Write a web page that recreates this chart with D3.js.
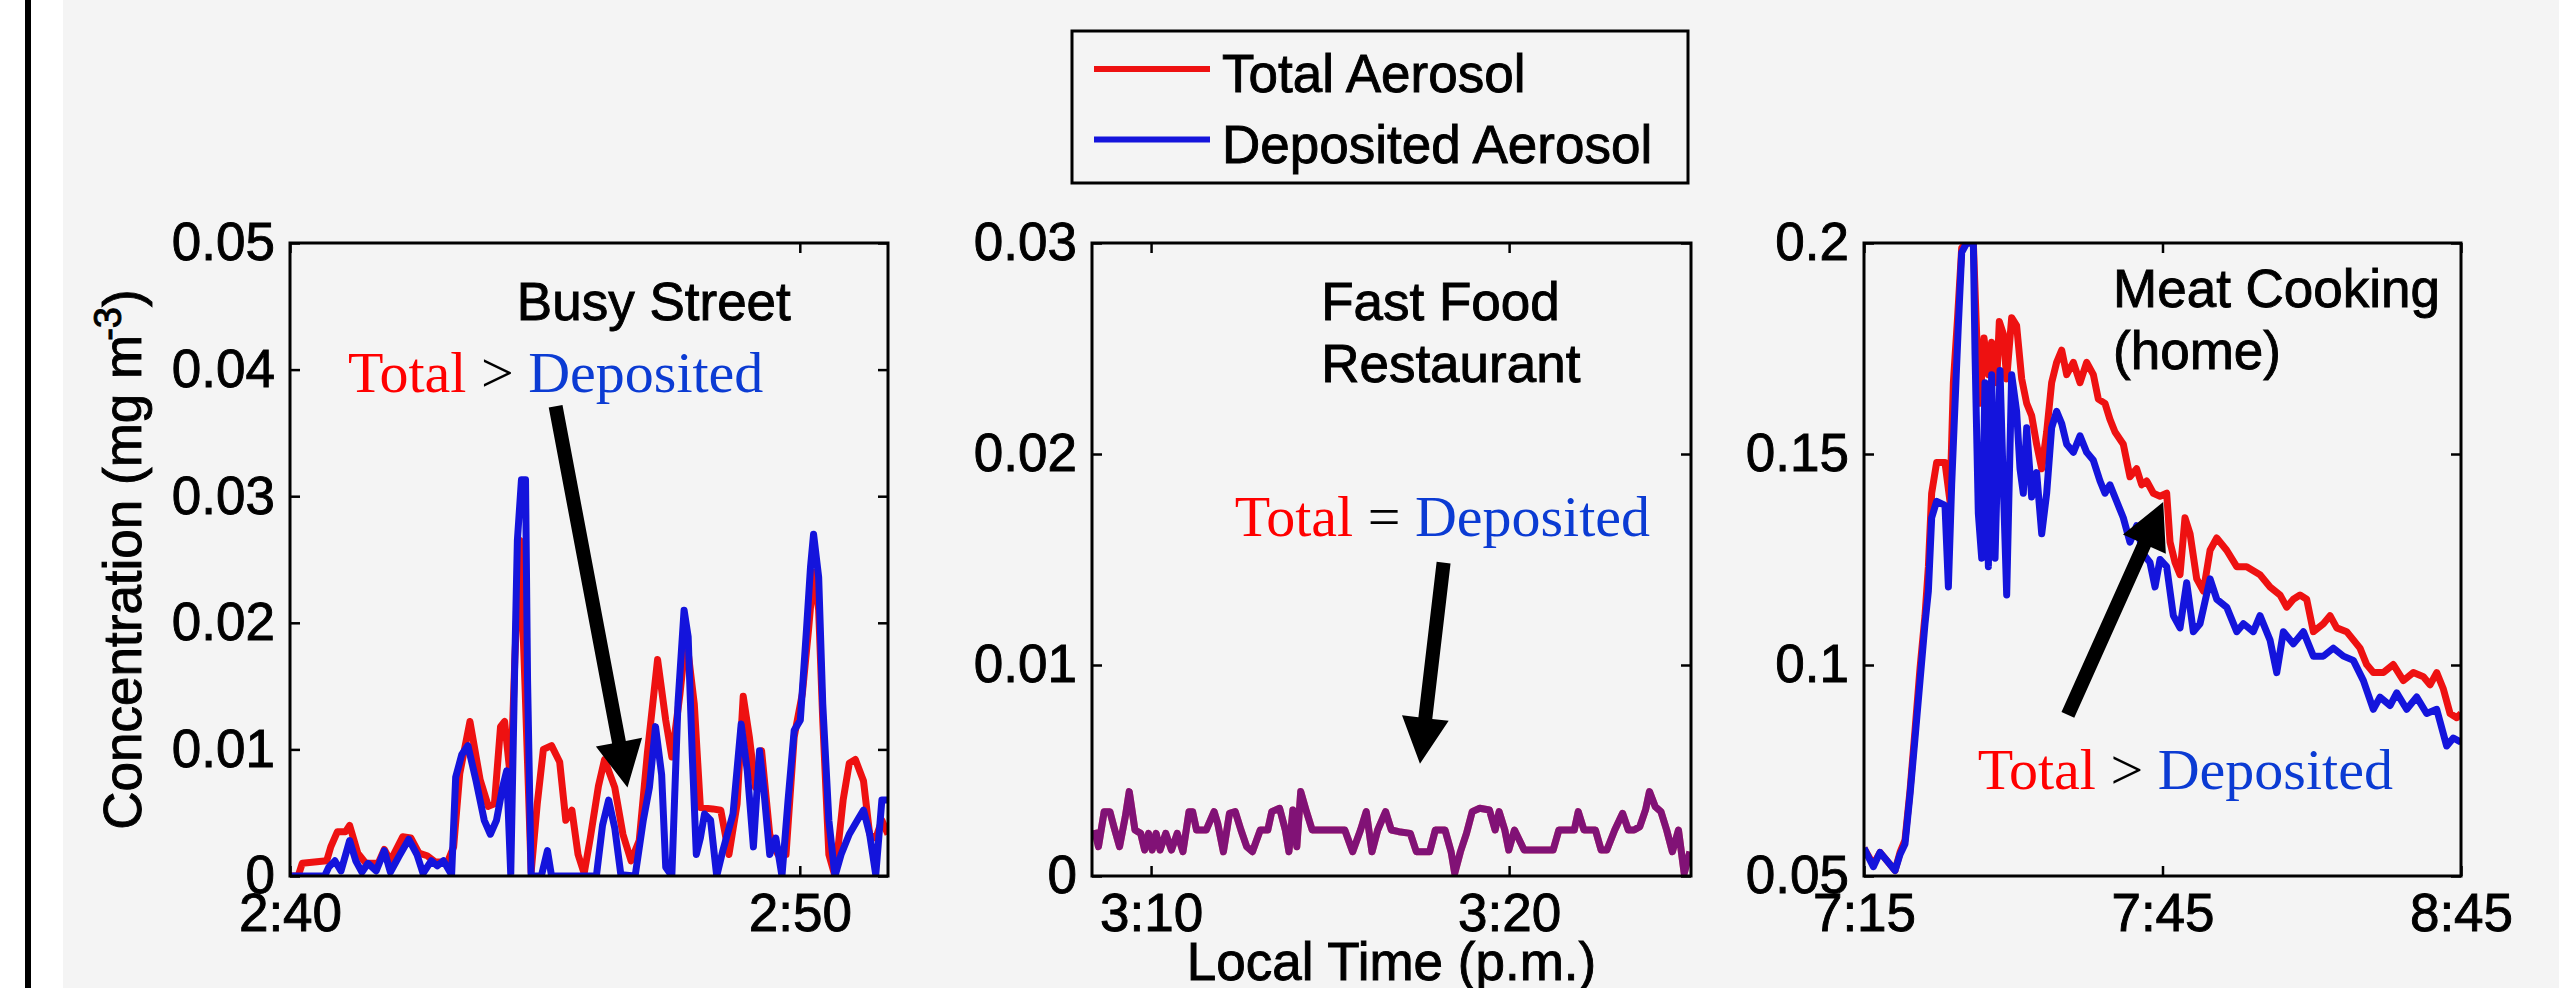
<!DOCTYPE html>
<html>
<head>
<meta charset="utf-8">
<script src="https://cdn.jsdelivr.net/npm/d3@7"></script>
<style>
  html, body { margin: 0; padding: 0; background: #f4f4f4; }
  svg { display: block; }
  text { white-space: pre; }
</style>
</head>
<body>
<svg id="fig" width="2559" height="988"></svg>
<script>
// ---------- data (concentration in mg m-3) ----------
// Busy street: [minutes past 2:00 p.m., concentration]
const streetTotal = [[40.00,0],[40.16,0],[40.24,0.0010],[40.72,0.0012],[40.80,0.0023],[40.93,0.0035],[41.09,0.0035],[41.17,0.0040],[41.33,0.0018],[41.49,0.0010],[41.73,0.0010],[41.85,0.0021],[41.97,0.0012],[42.21,0.0031],[42.37,0.0030],[42.53,0.0018],[42.69,0.0016],[42.85,0.0011],[43.09,0.0011],[43.21,0.0023],[43.33,0.0081],[43.53,0.0122],[43.73,0.0076],[43.89,0.0055],[44.01,0.0057],[44.13,0.0118],[44.21,0.0122],[44.33,0.0075],[44.41,0.0171],[44.51,0.0265],[44.61,0.0150],[44.73,0.0003],[44.85,0.0057],[44.97,0.0100],[45.13,0.0103],[45.29,0.0090],[45.41,0.0044],[45.53,0.0052],[45.65,0.0017],[45.77,0.0002],[45.89,0.0030],[46.05,0.0071],[46.17,0.0092],[46.37,0.0070],[46.53,0.0033],[46.69,0.0012],[46.85,0.0028],[47.01,0.0097],[47.21,0.0171],[47.37,0.0123],[47.49,0.0094],[47.65,0.0144],[47.77,0.0190],[47.93,0.0136],[48.05,0.0054],[48.29,0.0053],[48.45,0.0052],[48.61,0.0017],[48.77,0.0057],[48.89,0.0142],[49.01,0.0110],[49.13,0.0070],[49.25,0.0099],[49.41,0.0033],[49.57,0.0017],[49.73,0.0017],[49.89,0.0110],[50.05,0.0144],[50.17,0.0194],[50.27,0.0240],[50.37,0.0210],[50.45,0.0123],[50.57,0.0017],[50.69,0.0000],[50.85,0.0060],[50.97,0.0089],[51.09,0.0092],[51.25,0.0075],[51.37,0.0033],[51.49,0.0030],[51.61,0.0044],[51.73,0.0033]];
const streetDeposited = [[40.00,0],[40.68,0],[40.76,0.0007],[40.88,0.0012],[41.00,0.0004],[41.17,0.0028],[41.29,0.0012],[41.41,0.0003],[41.53,0.0010],[41.69,0.0004],[41.85,0.0020],[41.97,0.0003],[42.13,0.0015],[42.33,0.0029],[42.49,0.0017],[42.61,0.0002],[42.77,0.0012],[42.89,0.0008],[43.01,0.0012],[43.17,0.0001],[43.25,0.0078],[43.37,0.0096],[43.49,0.0103],[43.65,0.0075],[43.81,0.0044],[43.93,0.0033],[44.05,0.0044],[44.17,0.0070],[44.25,0.0083],[44.33,0.0001],[44.41,0.0170],[44.46,0.0265],[44.54,0.0313],[44.62,0.0313],[44.66,0.0154],[44.73,0],[44.93,0],[45.05,0.0020],[45.13,0],[46.01,0],[46.13,0.0040],[46.25,0.0060],[46.37,0.0038],[46.49,0.0001],[46.77,0],[46.93,0.0044],[47.05,0.0070],[47.17,0.0118],[47.29,0.0080],[47.37,0.0007],[47.49,0],[47.61,0.0136],[47.73,0.0210],[47.81,0.0189],[47.89,0.0096],[47.97,0.0017],[48.05,0.0030],[48.13,0.0049],[48.25,0.0044],[48.37,0],[48.49,0.0020],[48.69,0.0049],[48.85,0.0120],[48.97,0.0083],[49.09,0.0023],[49.21,0.0099],[49.29,0.0070],[49.41,0.0017],[49.53,0.0030],[49.65,0],[49.77,0.0060],[49.89,0.0115],[50.01,0.0123],[50.13,0.0194],[50.21,0.0244],[50.27,0.0270],[50.37,0.0236],[50.45,0.0136],[50.57,0.0044],[50.69,0],[50.81,0.0017],[50.97,0.0033],[51.13,0.0044],[51.25,0.0052],[51.37,0.0033],[51.49,0.0001],[51.61,0.0060],[51.73,0.0060]];

// Fast food restaurant: [minutes past 3:00 p.m., concentration]; total and deposited read the same
const foodTotal = [[8.42,0.00218],[8.53,0.00139],[8.69,0.00305],[8.85,0.00305],[8.96,0.00234],[9.12,0.00139],[9.28,0.00281],[9.39,0.00400],[9.55,0.00218],[9.71,0.00202],[9.82,0.00123],[9.93,0.00202],[10.03,0.00123],[10.14,0.00202],[10.25,0.00123],[10.41,0.00202],[10.57,0.00123],[10.73,0.00202],[10.89,0.00115],[11.06,0.00305],[11.16,0.00305],[11.27,0.00218],[11.54,0.00218],[11.76,0.00305],[11.86,0.00250],[12.02,0.00115],[12.19,0.00297],[12.35,0.00305],[12.51,0.00218],[12.67,0.00139],[12.83,0.00115],[13.05,0.00218],[13.26,0.00218],[13.37,0.00305],[13.59,0.00321],[13.75,0.00218],[13.85,0.00115],[13.96,0.00313],[14.07,0.00139],[14.18,0.00400],[14.34,0.00305],[14.50,0.00218],[14.77,0.00218],[15.41,0.00218],[15.63,0.00115],[15.85,0.00218],[16.01,0.00305],[16.17,0.00115],[16.33,0.00218],[16.55,0.00305],[16.71,0.00218],[16.92,0.00210],[17.24,0.00202],[17.41,0.00115],[17.78,0.00115],[17.94,0.00218],[18.21,0.00218],[18.38,0.00115],[18.48,0.00013],[18.64,0.00115],[18.81,0.00202],[18.97,0.00305],[19.18,0.00321],[19.45,0.00313],[19.61,0.00218],[19.72,0.00305],[19.88,0.00218],[19.99,0.00123],[20.15,0.00218],[20.42,0.00123],[21.23,0.00123],[21.39,0.00218],[21.66,0.00218],[21.82,0.00218],[21.93,0.00305],[22.09,0.00218],[22.41,0.00218],[22.57,0.00123],[22.73,0.00123],[22.95,0.00218],[23.17,0.00297],[23.33,0.00218],[23.49,0.00218],[23.65,0.00234],[23.81,0.00313],[23.92,0.00400],[24.08,0.00329],[24.24,0.00305],[24.40,0.00218],[24.56,0.00115],[24.73,0.00218],[24.89,0.00013],[25.05,0.00115]];

// Meat cooking at home: [minutes past 7:00 p.m. along the record, concentration]
const homeTotal = [[15.00,0.0566],[15.94,0.0527],[16.61,0.0556],[17.28,0.0537],[18.12,0.0513],[18.62,0.0556],[19.12,0.0585],[19.62,0.0701],[20.13,0.0846],[20.63,0.0992],[21.13,0.1117],[21.47,0.1233],[21.80,0.1407],[22.30,0.1480],[23.14,0.1480],[23.64,0.1388],[23.98,0.1669],[24.38,0.1814],[24.82,0.1988],[25.32,0.2000],[25.99,0.2000],[26.32,0.1785],[26.66,0.1620],[27.06,0.1775],[27.50,0.1688],[27.83,0.1765],[28.33,0.1669],[28.60,0.1814],[29.00,0.1785],[29.34,0.1678],[29.84,0.1823],[30.34,0.1804],[30.85,0.1678],[31.35,0.1620],[31.85,0.1591],[32.35,0.1523],[32.86,0.1465],[33.36,0.1552],[33.86,0.1669],[34.36,0.1717],[34.87,0.1746],[35.37,0.1688],[36.04,0.1717],[36.71,0.1669],[37.38,0.1717],[38.05,0.1688],[38.55,0.1630],[39.22,0.1620],[39.72,0.1582],[40.23,0.1552],[41.06,0.1523],[41.73,0.1446],[42.40,0.1465],[42.91,0.1427],[43.41,0.1436],[44.08,0.1407],[44.75,0.1400],[45.42,0.1407],[45.76,0.1291],[46.26,0.1243],[46.76,0.1214],[47.26,0.1349],[47.77,0.1311],[48.44,0.1204],[49.11,0.1175],[49.78,0.1272],[50.45,0.1301],[51.45,0.1272],[52.46,0.1233],[53.46,0.1233],[54.80,0.1214],[55.81,0.1185],[56.81,0.1166],[57.48,0.1137],[58.15,0.1156],[58.82,0.1166],[59.49,0.1156],[60.16,0.1079],[61.17,0.1098],[61.84,0.1117],[62.51,0.1088],[63.51,0.1079],[64.85,0.1040],[65.52,0.1001],[66.19,0.0982],[67.20,0.0982],[68.20,0.1001],[69.21,0.0963],[70.21,0.0982],[71.22,0.0972],[71.89,0.0953],[72.56,0.0982],[73.23,0.0943],[73.90,0.0885],[74.57,0.0875],[75.00,0.0885]];
const homeDeposited = [[15.00,0.0566],[15.94,0.0522],[16.61,0.0556],[17.28,0.0537],[18.12,0.0513],[18.62,0.0551],[19.12,0.0576],[19.62,0.0692],[20.13,0.0827],[20.63,0.0963],[21.13,0.1098],[21.47,0.1175],[21.80,0.1349],[22.30,0.1388],[23.14,0.1378],[23.48,0.1185],[23.81,0.1427],[24.15,0.1620],[24.48,0.1804],[24.82,0.1978],[25.32,0.2000],[25.99,0.2000],[26.16,0.1736],[26.49,0.1359],[26.83,0.1253],[27.16,0.1669],[27.50,0.1233],[27.83,0.1688],[28.17,0.1253],[28.67,0.1698],[29.00,0.1427],[29.34,0.1166],[29.84,0.1688],[30.34,0.1601],[30.68,0.1465],[31.01,0.1407],[31.35,0.1562],[31.85,0.1398],[32.35,0.1456],[32.86,0.1311],[33.36,0.1407],[33.86,0.1562],[34.36,0.1601],[34.87,0.1572],[35.37,0.1523],[36.04,0.1504],[36.71,0.1543],[37.38,0.1504],[38.05,0.1485],[38.72,0.1436],[39.22,0.1407],[39.72,0.1427],[40.39,0.1388],[41.06,0.1349],[41.73,0.1291],[42.40,0.1330],[43.07,0.1263],[43.74,0.1243],[44.25,0.1185],[44.75,0.1250],[45.42,0.1233],[46.09,0.1117],[46.76,0.1088],[47.43,0.1195],[48.10,0.1079],[48.77,0.1098],[49.78,0.1204],[50.45,0.1156],[51.45,0.1137],[52.46,0.1079],[53.13,0.1098],[54.13,0.1079],[54.80,0.1117],[55.81,0.1059],[56.48,0.0982],[57.15,0.1079],[58.15,0.1050],[59.16,0.1079],[60.16,0.1021],[61.17,0.1021],[62.17,0.1040],[63.18,0.1021],[64.18,0.1011],[65.19,0.0963],[66.19,0.0895],[66.86,0.0924],[67.87,0.0904],[68.54,0.0934],[69.54,0.0895],[70.55,0.0924],[71.55,0.0885],[72.56,0.0895],[73.56,0.0808],[74.23,0.0827],[75.00,0.0817]];

// ---------- ticks ----------
const streetXTicks = [40, 50];
const streetXLabels = ["2:40", "2:50"];
const streetYTicks = [0, 0.01, 0.02, 0.03, 0.04, 0.05];
const streetYLabels = ["0", "0.01", "0.02", "0.03", "0.04", "0.05"];

const foodXTicks = [10, 20];
const foodXLabels = ["3:10", "3:20"];
const foodYTicks = [0, 0.01, 0.02, 0.03];
const foodYLabels = ["0", "0.01", "0.02", "0.03"];

const homeXTicks = [15, 45, 75];
const homeXLabels = ["7:15", "7:45", "8:45"];
const homeYTicks = [0.05, 0.1, 0.15, 0.2];
const homeYLabels = ["0.05", "0.1", "0.15", "0.2"];

// ---------- text ----------
const seriesNames = ["Total Aerosol", "Deposited Aerosol"];
const compareWords = ["Total", "Deposited"];
const streetTitle = ["Busy Street"];
const foodTitle = ["Fast Food", "Restaurant"];
const homeTitle = ["Meat Cooking", "(home)"];
const yTitle = ["Concentration (mg m", "-3", ")"];
const xTitle = "Local Time (p.m.)";

// ---------- styling ----------
const W = 2559, H = 988;
const plotTop = 243, plotBottom = 876;
const lineRed = "#ee1111", lineBlue = "#1414dc";
const textRed = "#ff0000", textBlue = "#0b3bd3";
const sans = "'Liberation Sans', Arial, Helvetica, sans-serif";
const serif = "'Liberation Serif', 'Times New Roman', Times, serif";
const fontSize = 53;
const dataStroke = 7;

// sans labels are drawn with a hairline outline so they read as heavy as the plot frame
const heavy = sel => sel.attr("stroke", "#000").attr("stroke-width", 0.9);

const panels = [
  { left: 290, right: 888, xDomain: [40, 51.73], yDomain: [0, 0.05],
    xTicks: streetXTicks, xLabels: streetXLabels, yTicks: streetYTicks, yLabels: streetYLabels,
    series: [{ data: streetTotal, color: lineRed }, { data: streetDeposited, color: lineBlue }],
    title: streetTitle, titleAt: [44.45, 0.0439],
    relation: ">", compareAt: [41.14, 0.0382],
    arrow: [[45.21, 0.0371], [46.62, 0.0070]] },
  { left: 1092, right: 1691, xDomain: [8.35, 25.08], yDomain: [0, 0.03],
    xTicks: foodXTicks, xLabels: foodXLabels, yTicks: foodYTicks, yLabels: foodYLabels,
    series: [{ data: foodTotal, color: lineRed }, { data: foodTotal, color: lineBlue, opacity: 0.5 }],
    title: foodTitle, titleAt: [14.75, 0.02635],
    relation: "=", compareAt: [12.34, 0.01613],
    arrow: [[18.17, 0.01485], [17.51, 0.00532]] },
  { left: 1864, right: 2461, xDomain: [15, 75], yDomain: [0.05, 0.2],
    xTicks: homeXTicks, xLabels: homeXLabels, yTicks: homeYTicks, yLabels: homeYLabels,
    series: [{ data: homeTotal, color: lineRed }, { data: homeDeposited, color: lineBlue }],
    title: homeTitle, titleAt: [40.03, 0.1848],
    relation: ">", compareAt: [26.42, 0.0706],
    arrow: [[35.49, 0.0882], [45.07, 0.1386]] }
];

const svg = d3.select("#fig");

// page background, white margin strip and the frame rule on the left
svg.append("rect").attr("width", W).attr("height", H).attr("fill", "#f4f4f4");
svg.append("rect").attr("width", 63).attr("height", H).attr("fill", "#ffffff");
svg.append("rect").attr("x", 25).attr("width", 6).attr("height", H).attr("fill", "#000");

const defs = svg.append("defs");

function arrowPath(x0, y0, x1, y1) {
  const shaft = 14, headLen = 46, headW = 47;
  const dx = x1 - x0, dy = y1 - y0, L = Math.hypot(dx, dy);
  const ux = dx / L, uy = dy / L, nx = -uy, ny = ux;
  const bx = x1 - ux * headLen, by = y1 - uy * headLen;
  const pts = [
    [x0 + nx * shaft / 2, y0 + ny * shaft / 2],
    [bx + nx * shaft / 2, by + ny * shaft / 2],
    [bx + nx * headW / 2, by + ny * headW / 2],
    [x1, y1],
    [bx - nx * headW / 2, by - ny * headW / 2],
    [bx - nx * shaft / 2, by - ny * shaft / 2],
    [x0 - nx * shaft / 2, y0 - ny * shaft / 2]
  ];
  return "M" + pts.map(p => p.join(",")).join("L") + "Z";
}

panels.forEach((p, i) => {
  const x = d3.scaleLinear().domain(p.xDomain).range([p.left, p.right]);
  const y = d3.scaleLinear().domain(p.yDomain).range([plotBottom, plotTop]);
  const g = svg.append("g");

  const clipId = "plot-clip-" + i;
  defs.append("clipPath").attr("id", clipId)
    .append("rect").attr("x", p.left).attr("y", plotTop)
    .attr("width", p.right - p.left).attr("height", plotBottom - plotTop);

  const line = d3.line().x(d => x(d[0])).y(d => y(d[1]));
  const lines = g.append("g").attr("clip-path", `url(#${clipId})`);
  p.series.forEach(s => {
    lines.append("path")
      .attr("d", line(s.data))
      .attr("fill", "none")
      .attr("stroke", s.color)
      .attr("stroke-width", dataStroke)
      .attr("stroke-linejoin", "round")
      .attr("opacity", s.opacity || 1);
  });

  const styleAxis = (gen, tr) => {
    const a = g.append("g").attr("transform", tr).call(gen);
    a.select(".domain").remove();
    a.selectAll("line").attr("stroke", "#000").attr("stroke-width", 2.5);
    heavy(a.selectAll("text").attr("font-family", sans).attr("font-size", fontSize).attr("fill", "#000"));
    return a;
  };
  styleAxis(d3.axisLeft(y).tickValues(p.yTicks).tickFormat((d, j) => p.yLabels[j]).tickSize(-10).tickPadding(15), `translate(${p.left},0)`);
  styleAxis(d3.axisRight(y).tickValues(p.yTicks).tickFormat("").tickSize(-10), `translate(${p.right},0)`);
  styleAxis(d3.axisBottom(x).tickValues(p.xTicks).tickFormat((d, j) => p.xLabels[j]).tickSize(-10).tickPadding(17), `translate(0,${plotBottom})`);
  styleAxis(d3.axisTop(x).tickValues(p.xTicks).tickFormat("").tickSize(-10), `translate(0,${plotTop})`);

  g.append("rect")
    .attr("x", p.left).attr("y", plotTop)
    .attr("width", p.right - p.left).attr("height", plotBottom - plotTop)
    .attr("fill", "none").attr("stroke", "#000").attr("stroke-width", 3);

  // place label
  const tx = x(p.titleAt[0]);
  const title = g.append("text").attr("x", tx).attr("y", y(p.titleAt[1]))
    .attr("font-family", sans).attr("font-size", fontSize).attr("fill", "#000");
  heavy(title);
  p.title.forEach((s, k) => title.append("tspan").attr("x", tx).attr("dy", k ? 62 : 0).text(s));

  // total vs deposited comparison
  const cmp = g.append("text").attr("x", x(p.compareAt[0])).attr("y", y(p.compareAt[1]))
    .attr("font-family", serif).attr("font-size", 58);
  cmp.append("tspan").attr("fill", textRed).text(compareWords[0]);
  cmp.append("tspan").attr("fill", "#000").text(" " + p.relation + " ");
  cmp.append("tspan").attr("fill", textBlue).text(compareWords[1]);

  g.append("path")
    .attr("d", arrowPath(x(p.arrow[0][0]), y(p.arrow[0][1]), x(p.arrow[1][0]), y(p.arrow[1][1])))
    .attr("fill", "#000");
});

// y-axis title
const yt = svg.append("text")
  .attr("transform", `translate(141,${(plotTop + plotBottom) / 2}) rotate(-90)`)
  .attr("text-anchor", "middle")
  .attr("font-family", sans).attr("font-size", fontSize).attr("fill", "#000");
heavy(yt);
yt.append("tspan").text(yTitle[0]);
yt.append("tspan").attr("font-size", 38).attr("dy", -20).attr("dx", -6).text(yTitle[1]);
yt.append("tspan").attr("dy", 20).text(yTitle[2]);

// x-axis title under the middle panel
heavy(svg.append("text")
  .attr("x", (panels[1].left + panels[1].right) / 2).attr("y", 980)
  .attr("text-anchor", "middle")
  .attr("font-family", sans).attr("font-size", fontSize).attr("fill", "#000")
  .text(xTitle));

// legend
const lg = svg.append("g");
lg.append("rect").attr("x", 1072).attr("y", 31).attr("width", 616).attr("height", 152)
  .attr("fill", "#f4f4f4").attr("stroke", "#000").attr("stroke-width", 3);
[lineRed, lineBlue].forEach((c, k) => {
  const cy = 69 + k * 70.5;
  lg.append("line").attr("x1", 1094).attr("x2", 1210).attr("y1", cy).attr("y2", cy)
    .attr("stroke", c).attr("stroke-width", 6);
  heavy(lg.append("text").attr("x", 1222).attr("y", cy + 23)
    .attr("font-family", sans).attr("font-size", fontSize).attr("fill", "#000")
    .text(seriesNames[k]));
});
</script>
</body>
</html>
